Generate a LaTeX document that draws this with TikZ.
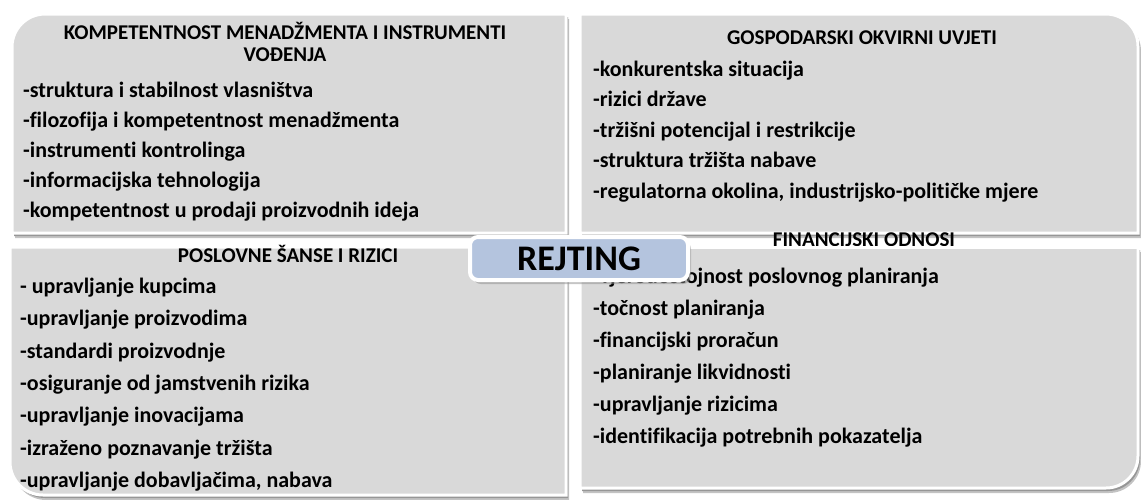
\documentclass[tikz,border=0pt]{standalone}
\usepackage{fontspec}
\setmainfont{Carlito}[Ligatures=CommonOff]
\usetikzlibrary{shadows}
\definecolor{quadfill}{RGB}{217,217,217}
\definecolor{shadowcol}{RGB}{150,150,150}
\definecolor{shadowlt}{RGB}{195,195,195}
\definecolor{rejblue}{RGB}{180,196,222}
\newcommand\itemfont{\fontsize{22}{25}\selectfont\bfseries}
\newcommand\ttlfont{\fontsize{21}{24}\selectfont\bfseries}
\newcommand\rejfont{\fontsize{36}{40}\selectfont\bfseries}
\def\pTL{(12,233) -- (12,47) .. controls (12,28.8) and (26.8,14) .. (45,14) -- (566,14) -- (566,233) -- cycle}
\def\pTR{(580,233) -- (580,14) -- (1106,14) .. controls (1123.7,14) and (1138,28.3) .. (1138,46) -- (1138,233) -- cycle}
\def\pBL{(10,247) -- (566,247) -- (566,495) -- (43,495) .. controls (24.8,495) and (10,480.2) .. (10,462) -- cycle}
\def\pBR{(580,247) -- (1138,247) -- (1138,456) .. controls (1138,473.7) and (1123.7,488) .. (1106,488) -- (580,488) -- cycle}
\begin{document}
\begin{tikzpicture}[x=1pt,y=-1pt,
  quad/.style={fill=quadfill, draw=white, line width=3pt},
  quadline/.style={draw=white, line width=3pt},
  shad/.style={fill=shadowcol},
  shadl/.style={fill=shadowlt},
  item/.style={anchor=west, inner sep=0pt, font=\itemfont, text height=15pt, text depth=4pt},
  ttl/.style={anchor=center, inner sep=0pt, font=\ttlfont, text height=15pt, text depth=4pt},
  rejbox/.style={fill=rejblue, draw=white, line width=4pt, rounded corners=8pt,
    minimum width=218pt, minimum height=43pt, inner sep=0pt, font=\rejfont,
    drop shadow={shadow xshift=3pt, shadow yshift=-4pt, fill=black!45}}]
\useasboundingbox (0,0) rectangle (1141,499);
% shadows
\begin{scope}[shift={(3,5)}]
  \fill[shadl] \pTL; \fill[shadl] \pTR; \fill[shadl] \pBL; \fill[shadl] \pBR;
\end{scope}
\begin{scope}[shift={(2,3)}]
  \fill[shad] \pTL; \fill[shad] \pTR; \fill[shad] \pBL; \fill[shad] \pBR;
\end{scope}
% quadrants
\path[quad] \pTL;
\path[quad] \pTR;
\path[quad] \pBL;
\path[quad] \pBR;
% top-left
\node[ttl] (tlt1) at (285,34) {KOMPETENTNOST MENADŽMENTA I INSTRUMENTI};
\node[ttl] (tlt2) at (285,56) {VOĐENJA};
\node[item] (tl1) at (23,92) {-struktura i stabilnost vlasništva};
\node[item] (tl2) at (23,122) {-filozofija i kompetentnost menadžmenta};
\node[item] (tl3) at (23,152) {-instrumenti kontrolinga};
\node[item] (tl4) at (23,182) {-informacijska tehnologija};
\node[item] (tl5) at (23,212) {-kompetentnost u prodaji proizvodnih ideja};
% top-right
\node[ttl] (trt) at (862,39) {GOSPODARSKI OKVIRNI UVJETI};
\node[item] (tr1) at (593,71) {-konkurentska situacija};
\node[item] (tr2) at (593,101) {-rizici države};
\node[item] (tr3) at (593,132) {-tržišni potencijal i restrikcije};
\node[item] (tr4) at (593,162) {-struktura tržišta nabave};
\node[item] (tr5) at (593,193) {-regulatorna okolina, industrijsko-političke mjere};
% bottom-left
\node[ttl] (blt) at (288,257) {POSLOVNE ŠANSE I RIZICI};
\node[item] (bl1) at (20,288) {- upravljanje kupcima};
\node[item] (bl2) at (20,320) {-upravljanje proizvodima};
\node[item] (bl3) at (20,353) {-standardi proizvodnje};
\node[item] (bl4) at (20,385) {-osiguranje od jamstvenih rizika};
\node[item] (bl5) at (20,417) {-upravljanje inovacijama};
\node[item] (bl6) at (20,450) {-izraženo poznavanje tržišta};
\node[item] (bl7) at (20,482) {-upravljanje dobavljačima, nabava};
% bottom-right
\node[ttl] (brt) at (864,241) {FINANCIJSKI ODNOSI};
\node[item] (br1) at (593,278) {-vjerodostojnost poslovnog planiranja};
\node[item] (br2) at (593,310) {-točnost planiranja};
\node[item] (br3) at (593,342) {-financijski proračun};
\node[item] (br4) at (593,374) {-planiranje likvidnosti};
\node[item] (br5) at (593,406) {-upravljanje rizicima};
\node[item] (br6) at (593,438) {-identifikacija potrebnih pokazatelja};
\path[quadline] (580,247) -- (1138,247);
% centre
\node[rejbox] (rej) at (579,258.5) {REJTING};
\end{tikzpicture}
\end{document}
